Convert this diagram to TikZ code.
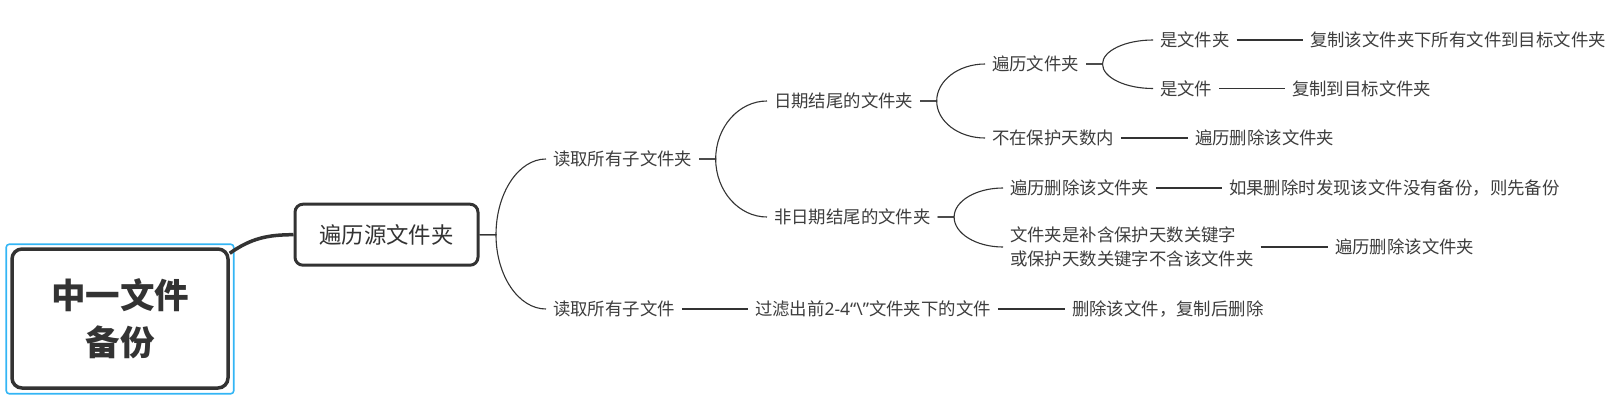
\documentclass[tikz,border=0pt]{standalone}
\usepackage{fontspec}
\setmainfont{Noto Sans CJK SC}
\newfontfamily\latinfont{Noto Sans}
\usetikzlibrary{calc}
\definecolor{ink}{HTML}{333333}
\definecolor{selblue}{HTML}{33B5F5}
\tikzstyle{root}=[draw=ink,line width=3.5pt,rounded corners=10pt,minimum width=216pt,minimum height=139pt,align=center,text=ink,font=\fontsize{34.5}{47}\selectfont\bfseries]
\tikzstyle{main topic}=[draw=ink,line width=3pt,rounded corners=8pt,minimum width=183pt,minimum height=61pt,text=ink,font=\fontsize{22.4}{27}\selectfont]
\tikzstyle{topic}=[anchor=west,inner xsep=7pt,inner ysep=2pt,outer sep=0pt,align=left,text=ink!95,font=\fontsize{17.4}{24}\selectfont]
\tikzstyle{trunk}=[draw=ink,line width=3.5pt]
\tikzstyle{branch}=[draw=ink,line width=1.1pt]
\tikzstyle{link}=[draw=ink,line width=1.1pt]
\tikzstyle{selection}=[draw=selblue,line width=1.6pt,rounded corners=3pt]
\begin{document}
\begin{tikzpicture}[x=1pt,y=-1pt]
     \useasboundingbox (0,0) rectangle (1620,402);
     % Central topic and the first box
     \node[root] (root) at (120,318.5) {中一文件\\备份};
     \draw[selection] ([xshift=-4pt,yshift=3pt]root.north west) rectangle ([xshift=4pt,yshift=-4pt]root.south east);
     \node[main topic] (main) at (386.5,234.7) {遍历源文件夹};
     \path[trunk] ([yshift=-6pt]root.north east) to[out=35,in=180] (main.west);

     % Then all the plain text topics
     \foreach \pos/\name/\txt in {{(546,159)/rd/读取所有子文件夹}, {(546,309)/rf/读取所有子文件},
       {(767,101)/dt/日期结尾的文件夹}, {(767,217)/nd/非日期结尾的文件夹},
       {(985,64)/bl/遍历文件夹}, {(985,138)/bz/不在保护天数内},
       {(1153,40)/isd/是文件夹}, {(1153,88.5)/isf/是文件},
       {(1303,40)/cpd/复制该文件夹下所有文件到目标文件夹}, {(1285,88.5)/cpf/复制到目标文件夹},
       {(1188,138)/delA/遍历删除该文件夹}, {(1003,188)/dl/遍历删除该文件夹},
       {(1222,188)/bk/如果删除时发现该文件没有备份，则先备份},
       {(1003,247)/kw/{文件夹是补含保护天数关键字\\或保护天数关键字不含该文件夹}},
       {(1328,247)/delB/遍历删除该文件夹},
       {(748,309)/flt/过滤出前{\latinfont 2-4“\textbackslash”}文件夹下的文件}, {(1065,309)/rm/删除该文件，复制后删除}}
     \node[topic] (\name) at \pos {\txt};

     % Forks: short stub, then a curve to each child
     \foreach \source/\dest in {main/rd, main/rf, rd/dt, rd/nd, dt/bl, dt/bz, nd/dl, nd/kw, bl/isd, bl/isf}
     {
       \path (\source.east) ++(16.5,0) coordinate (fork);
       \path (fork |- \dest.west) coordinate (bend);
       \path[branch] (\source.east) -- (fork) .. controls ($(fork)!0.55!(bend)$) and ($(\dest.west)!0.55!(bend)$) .. (\dest.west);
     }

     % Straight links between single topics
     \foreach \source/\dest in {isd/cpd, isf/cpf, bz/delA, dl/bk, kw/delB, rf/flt, flt/rm}
     \path[link] (\source) -- (\dest);
\end{tikzpicture}
\end{document}
